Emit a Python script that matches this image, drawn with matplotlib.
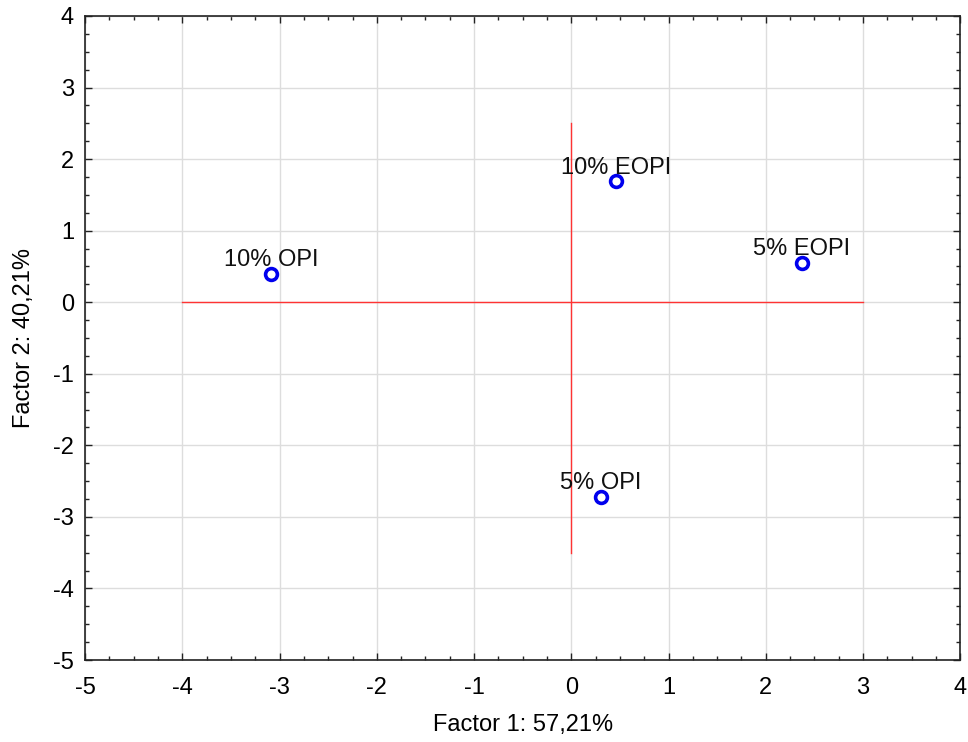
import matplotlib.pyplot as plt
from matplotlib.ticker import MultipleLocator

plt.rcParams['font.family'] = ['Liberation Sans', 'DejaVu Sans']
plt.rcParams['axes.unicode_minus'] = False

# Coordonnées des échantillons sur les deux premiers facteurs
labels = ['10% OPI', '10% EOPI', '5% EOPI', '5% OPI']
factor1 = [-3.09, 0.46, 2.37, 0.30]
factor2 = [0.40, 1.69, 0.55, -2.72]

# Axes de référence tracés en rouge
h_line_x = [-4, 3]
v_line_y = [-3.5, 2.5]

fig = plt.figure(figsize=(9.68, 7.42), dpi=100)
ax = fig.add_axes([0.088, 0.1105, 0.904, 0.868])

ax.set_xlim(-5, 4)
ax.set_ylim(-5, 4)
ax.grid(True, color='#dddddd', linewidth=1)
ax.set_axisbelow(True)

ax.plot(h_line_x, [0, 0], color='#ff3333', linewidth=1)
ax.plot([0, 0], v_line_y, color='#ff3333', linewidth=1)

ax.plot(factor1, factor2, linestyle='none', marker='o', markersize=8.5,
        markerfacecolor='white', markeredgecolor='#0000ee', markeredgewidth=2.6)

for x, y, lab in zip(factor1, factor2, labels):
    ax.annotate(lab, (x, y), xytext=(0, 5.5), textcoords='offset points',
                ha='center', va='baseline', fontsize=17, color='#111111')

ax.xaxis.set_major_locator(MultipleLocator(1))
ax.yaxis.set_major_locator(MultipleLocator(1))
ax.xaxis.set_minor_locator(MultipleLocator(0.25))
ax.yaxis.set_minor_locator(MultipleLocator(0.25))
ax.tick_params(which='both', direction='in', top=True, right=True, color='#222222')
ax.tick_params(which='major', length=5, width=1, labelsize=17, pad=8)
ax.tick_params(axis='x', which='major', pad=12)
ax.tick_params(which='minor', length=3, width=1)

for s in ax.spines.values():
    s.set_color('#222222')
    s.set_linewidth(1.2)

ax.set_xlabel('Factor 1: 57,21%', fontsize=17, labelpad=11)
ax.set_ylabel('Factor 2: 40,21%', fontsize=17, labelpad=13)

fig.savefig('out.png', dpi=100, facecolor='white')
